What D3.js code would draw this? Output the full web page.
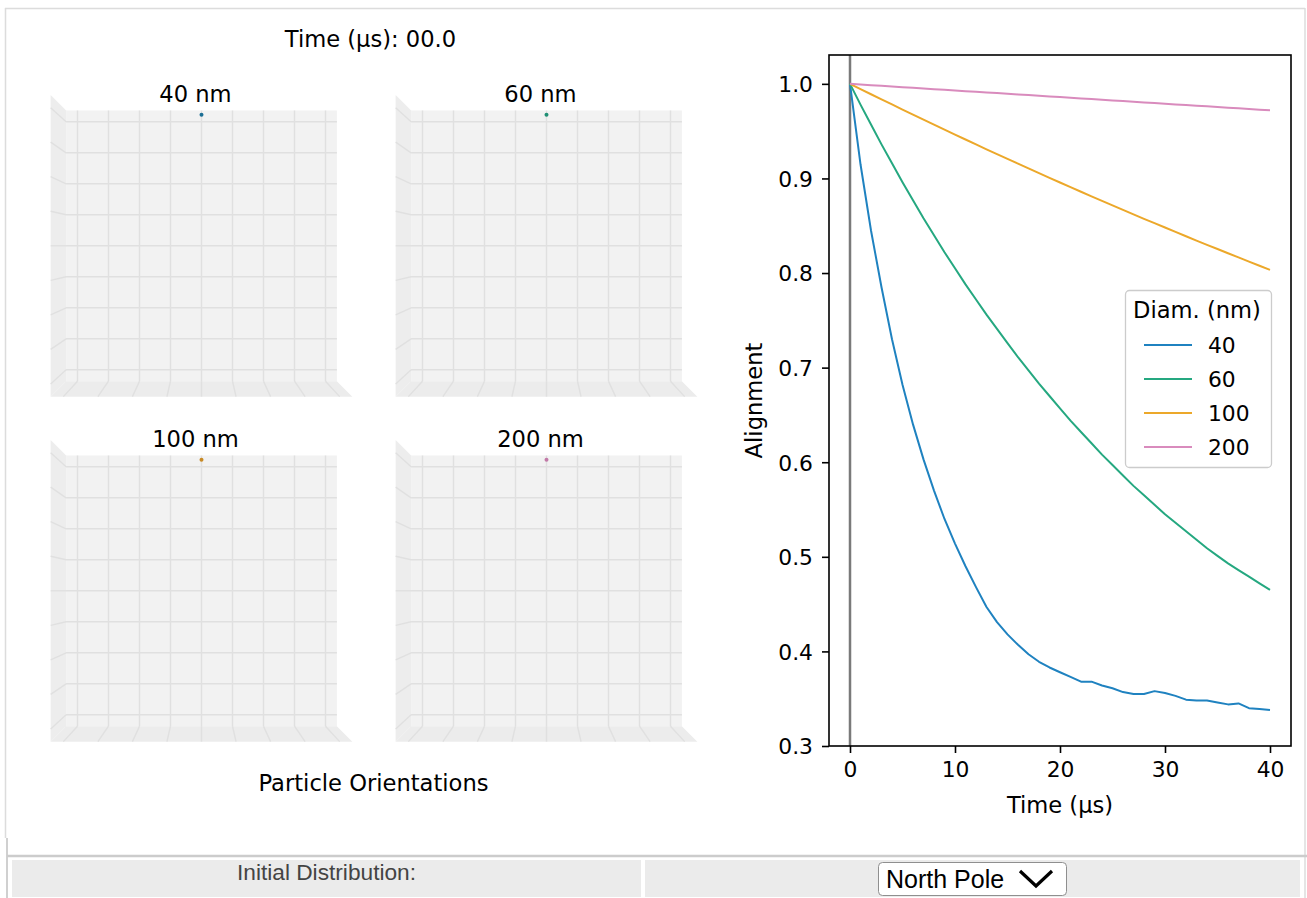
<!DOCTYPE html>
<html><head><meta charset="utf-8">
<script src="https://cdn.jsdelivr.net/npm/d3@7"></script>
<style>
html,body{margin:0;padding:0;background:#fff;}
svg{display:block;}
</style></head><body>
<svg id="chart" width="1307" height="898"></svg>
<script>
// ---------- data ----------
const times = [0,1,2,3,4,5,6,7,8,9,10,11,12,13,14,15,16,17,18,19,20,21,22,23,24,25,26,27,28,29,30,31,32,33,34,35,36,37,38,39,40];
const align40 = [1.000,0.915,0.845,0.785,0.730,0.682,0.640,0.603,0.570,0.540,0.514,0.490,0.468,0.447,0.431,0.418,0.407,0.397,0.389,0.383,0.378,0.373,0.368,0.368,0.364,0.361,0.357,0.355,0.355,0.358,0.356,0.353,0.349,0.348,0.348,0.346,0.344,0.345,0.340,0.339,0.338];
const align60 = [1.000,0.978,0.957,0.936,0.916,0.896,0.877,0.858,0.840,0.822,0.805,0.788,0.772,0.756,0.741,0.726,0.711,0.697,0.683,0.670,0.657,0.644,0.632,0.620,0.608,0.597,0.586,0.575,0.565,0.555,0.545,0.536,0.527,0.518,0.509,0.501,0.493,0.486,0.479,0.472,0.465];
const align100 = [1.0000,0.9945,0.9890,0.9836,0.9782,0.9728,0.9675,0.9621,0.9568,0.9516,0.9464,0.9412,0.9360,0.9308,0.9257,0.9207,0.9156,0.9106,0.9056,0.9006,0.8957,0.8908,0.8859,0.8811,0.8763,0.8715,0.8668,0.8620,0.8573,0.8527,0.8481,0.8435,0.8389,0.8343,0.8298,0.8254,0.8209,0.8165,0.8121,0.8077,0.8034];
const align200 = [1.000,0.9993,0.9986,0.9979,0.9972,0.9965,0.9958,0.9951,0.9944,0.9937,0.9930,0.9923,0.9916,0.9909,0.9902,0.9895,0.9888,0.9881,0.9874,0.9867,0.9860,0.9853,0.9846,0.9839,0.9832,0.9825,0.9818,0.9811,0.9804,0.9797,0.9790,0.9783,0.9776,0.9769,0.9762,0.9755,0.9748,0.9741,0.9734,0.9727,0.9720];
const diameters = ["40","60","100","200"];
const panelTitles = ["40 nm","60 nm","100 nm","200 nm"];
const colors = ["#1f82c0","#25a880","#eca82a","#d98bbd"];
const dotColors = ["#1c6f95","#1f8f74","#c88a25","#c27aa8"];
// particle orientation (x,y,z) for each diameter at t = 0 (North Pole)
const orientX = [0,0,0,0];
const orientY = [0,0,0,0];
const orientZ = [1,1,1,1];
const gridTicks = [-1,-0.75,-0.5,-0.25,0,0.25,0.5,0.75,1];
const xTicks = [0,10,20,30,40];
const yTicks = [0.3,0.4,0.5,0.6,0.7,0.8,0.9,1.0];
const timeTitle = "Time (µs): 00.0";
const leftTitle = "Particle Orientations";
const xLabel = "Time (µs)";
const yLabel = "Alignment";
const legendTitle = "Diam. (nm)";
const controlLabel = "Initial Distribution:";
const controlValue = "North Pole";

(function(){
const svg = d3.select("#chart");
const FONT = "'DejaVu Sans', sans-serif";
const FS = 22.6, TFS = 21.8;

// ---------- page frame ----------
const frame = svg.append("g");
frame.append("line").attr("x1",5).attr("x2",1305).attr("y1",8.5).attr("y2",8.5).attr("stroke","#dcdcdc").attr("stroke-width",1.5);
frame.append("line").attr("x1",5.5).attr("x2",5.5).attr("y1",8).attr("y2",838).attr("stroke","#dcdcdc").attr("stroke-width",1.5);
frame.append("line").attr("x1",1305).attr("x2",1305).attr("y1",8).attr("y2",898).attr("stroke","#dcdcdc").attr("stroke-width",1.5);
frame.append("line").attr("x1",7).attr("x2",7).attr("y1",838).attr("y2",898).attr("stroke","#d0d0d0").attr("stroke-width",2);
frame.append("line").attr("x1",7).attr("x2",1307).attr("y1",856).attr("y2",856).attr("stroke","#cccccc").attr("stroke-width",2.5);
frame.append("rect").attr("x",12).attr("y",860).attr("width",629).attr("height",37).attr("fill","#ebebeb");
frame.append("rect").attr("x",645).attr("y",860).attr("width",655).attr("height",37).attr("fill","#ebebeb");
frame.append("text").attr("x",326.5).attr("y",880).attr("text-anchor","middle")
  .attr("font-family","'Liberation Sans', Arial, sans-serif").attr("font-size",22.7).attr("fill","#444").text(controlLabel);
frame.append("rect").attr("x",878.5).attr("y",862.5).attr("width",188).attr("height",33).attr("rx",4)
  .attr("fill","#fff").attr("stroke","#8f8f8f").attr("stroke-width",1);
frame.append("text").attr("x",886).attr("y",888).attr("font-family","'Liberation Sans', Arial, sans-serif")
  .attr("font-size",25).attr("fill","#000").text(controlValue);
frame.append("path").attr("d","M1020,871 L1036,886 L1052,871").attr("fill","none").attr("stroke","#000").attr("stroke-width",3.2);

// ---------- 3D panels ----------
const L = 1.092, UNIT = 124, PERSP = 0.114;
const panelCenters = [[201.5,245.8],[546.5,245.8],[201.5,590.8],[546.5,590.8]];
function makeProj(cx, cy){
  const sx = d3.scaleLinear().domain([-1,1]).range([-UNIT,UNIT]);
  const sz = d3.scaleLinear().domain([-1,1]).range([UNIT,-UNIT]);
  const depth = d3.scaleLinear().domain([L,-L]).range([1,1+PERSP]);
  return (px,py,pz) => { const s = depth(py); return [cx + sx(px)*s, cy + sz(pz)*s]; };
}
svg.append("text").attr("x",370.5).attr("y",47).attr("text-anchor","middle")
  .attr("font-family",FONT).attr("font-size",FS).attr("fill","#000").text(timeTitle);
svg.append("text").attr("x",373.5).attr("y",791).attr("text-anchor","middle")
  .attr("font-family",FONT).attr("font-size",FS).attr("fill","#000").text(leftTitle);

panelCenters.forEach((c,i) => {
  const P = makeProj(c[0], c[1]);
  const g = svg.append("g");
  const poly = pts => "M" + pts.map(p => P(...p).join(",")).join("L") + "Z";
  g.append("path").attr("d", poly([[-L,L,-L],[L,L,-L],[L,L,L],[-L,L,L]])).attr("fill","#f2f2f2");
  g.append("path").attr("d", poly([[-L,L,-L],[-L,-L,-L],[-L,-L,L],[-L,L,L]])).attr("fill","#ededed");
  g.append("path").attr("d", poly([[-L,L,-L],[L,L,-L],[L,-L,-L],[-L,-L,-L]])).attr("fill","#ececec");
  const seg = (a,b) => g.append("line").attr("x1",P(...a)[0]).attr("y1",P(...a)[1]).attr("x2",P(...b)[0]).attr("y2",P(...b)[1])
      .attr("stroke","#e0e0e0").attr("stroke-width",1.4);
  gridTicks.forEach(t => {
    seg([t,L,-L],[t,L,L]);      // back wall verticals
    seg([-L,L,t],[L,L,t]);      // back wall horizontals
    seg([-L,L,t],[-L,-L,t]);    // left wall
    seg([t,L,-L],[t,-L,-L]);    // floor
  });
  const d = P(orientX[i], orientY[i], orientZ[i]);
  g.append("circle").attr("cx",d[0]).attr("cy",d[1]).attr("r",2).attr("fill",dotColors[i]);
  g.append("text").attr("x",c[0]-6).attr("y",c[1]-144).attr("text-anchor","middle")
    .attr("font-family",FONT).attr("font-size",FS).attr("fill","#000").text(panelTitles[i]);
});

// ---------- right line chart ----------
const pL = 829, pR = 1291, pT = 55, pB = 746;
const x = d3.scaleLinear().domain([-2,42]).range([pL,pR]);
const y = d3.scaleLinear().domain([0.3,1.0305]).range([pB,pT]);
const chart = svg.append("g");
chart.append("rect").attr("x",pL).attr("y",pT).attr("width",pR-pL).attr("height",pB-pT).attr("fill","#fff");
chart.append("line").attr("x1",x(0)).attr("x2",x(0)).attr("y1",pT).attr("y2",pB).attr("stroke","#7a7a7a").attr("stroke-width",2.5);

const series = [align40, align60, align100, align200].map((vals,i) => ({name: diameters[i], color: colors[i], pts: times.map((t,j)=>({t, v: vals[j]}))}));
const line = d3.line().x(d=>x(d.t)).y(d=>y(d.v));
series.forEach(s => chart.append("path").attr("d", line(s.pts)).attr("fill","none").attr("stroke",s.color)
  .attr("stroke-width",2).attr("stroke-linejoin","round"));

chart.append("rect").attr("x",pL).attr("y",pT).attr("width",pR-pL).attr("height",pB-pT)
  .attr("fill","none").attr("stroke","#000").attr("stroke-width",1.6);

const xAxis = chart.append("g").attr("transform",`translate(0,${pB})`)
  .call(d3.axisBottom(x).tickValues(xTicks).tickFormat(d3.format("d")).tickSize(7).tickPadding(9));
const yAxis = chart.append("g").attr("transform",`translate(${pL},0)`)
  .call(d3.axisLeft(y).tickValues(yTicks).tickFormat(d3.format(".1f")).tickSize(7).tickPadding(9));
[xAxis,yAxis].forEach(a => {
  a.select(".domain").remove();
  a.selectAll(".tick line").attr("stroke","#000").attr("stroke-width",1.6);
  a.selectAll(".tick text").attr("font-family",FONT).attr("font-size",TFS).attr("fill","#000");
});
yAxis.selectAll(".tick text").attr("dy","0.36em");

chart.append("text").attr("x",(pL+pR)/2).attr("y",813).attr("text-anchor","middle")
  .attr("font-family",FONT).attr("font-size",FS).attr("fill","#000").text(xLabel);
chart.append("text").attr("transform",`translate(762,${(pT+pB)/2}) rotate(-90)`).attr("text-anchor","middle")
  .attr("font-family",FONT).attr("font-size",FS).attr("fill","#000").text(yLabel);

// legend
const lg = chart.append("g");
lg.append("rect").attr("x",1125.5).attr("y",290.5).attr("width",146).attr("height",177).attr("rx",4)
  .attr("fill","rgba(255,255,255,0.8)").attr("stroke","#cccccc").attr("stroke-width",1.3);
lg.append("text").attr("x",1197).attr("y",318).attr("text-anchor","middle")
  .attr("font-family",FONT).attr("font-size",FS).attr("fill","#000").text(legendTitle);
const legY = d3.scalePoint().domain(diameters).range([345,447]);
series.forEach(s => {
  lg.append("line").attr("x1",1144).attr("x2",1192).attr("y1",legY(s.name)).attr("y2",legY(s.name)).attr("stroke",s.color).attr("stroke-width",2);
  lg.append("text").attr("x",1208).attr("y",legY(s.name)+8).attr("font-family",FONT).attr("font-size",TFS).attr("fill","#000").text(s.name);
});
})();
</script>
</body></html>
